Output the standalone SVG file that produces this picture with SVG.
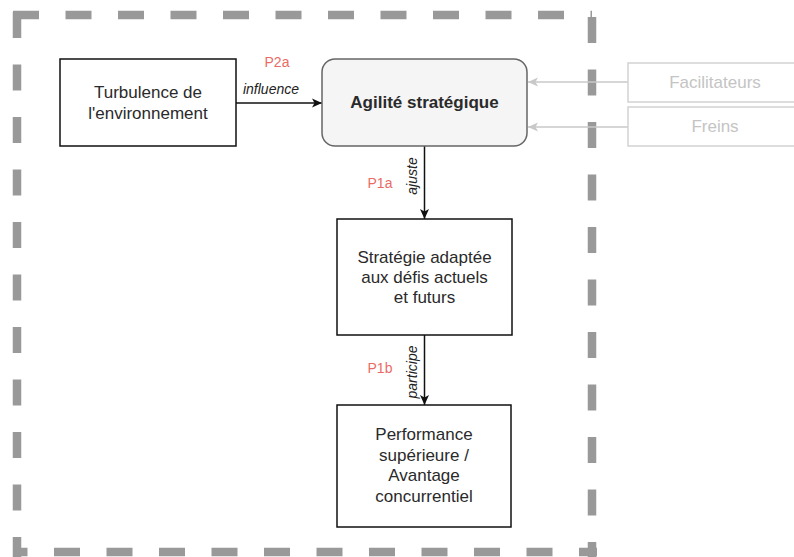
<svg xmlns="http://www.w3.org/2000/svg" width="794" height="557" viewBox="0 0 794 557">
  <style>
    .frame { fill: none; stroke: #999999; stroke-width: 8.5; stroke-dasharray: 26 26.5; }
    .box { fill: #ffffff; stroke: #111111; stroke-width: 1.5; }
    .soft { fill: #ffffff; stroke: #d2d2d2; stroke-width: 1.5; }
    .node { font-family: "Liberation Sans", Arial, sans-serif; font-size: 17px; fill: #2a2a2a; text-anchor: middle; }
    .bold { font-weight: bold; }
    .pale { fill: #c4c4c4; }
    .edge { stroke: #111111; stroke-width: 1.5; fill: none; }
    .edge-soft { stroke: #c8c8c8; stroke-width: 1.5; fill: none; }
    .lbl { font-family: "Liberation Sans", Arial, sans-serif; font-size: 14px; font-style: italic; fill: #222222; text-anchor: middle; }
    .prop { font-family: "Liberation Sans", Arial, sans-serif; font-size: 14px; fill: #ea6b66; text-anchor: middle; }
  </style>
  <defs>
    <marker id="arrow" markerUnits="userSpaceOnUse" markerWidth="12" markerHeight="12" viewBox="0 0 12 12" refX="11" refY="6" orient="auto">
      <path d="M1,1.5 L11,6 L1,10.5 L3.5,6 Z" fill="#111111"/>
    </marker>
    <marker id="arrow-soft" markerUnits="userSpaceOnUse" markerWidth="12" markerHeight="12" viewBox="0 0 12 12" refX="11" refY="6" orient="auto">
      <path d="M1,1.5 L11,6 L1,10.5 L3.5,6 Z" fill="#c8c8c8"/>
    </marker>
  </defs>

  <!-- dashed boundary, one line per side so each corner lines up -->
  <g id="boundary">
    <path class="frame" d="M13,15 H592"/>
    <path class="frame" d="M17,12 V557"/>
    <path class="frame" d="M592,17 V557"/>
    <path class="frame" d="M13,552 H597" stroke-dashoffset="11.5"/>
  </g>

  <g id="connectors">
    <path class="edge" d="M236,103 H322" marker-end="url(#arrow)"/>
    <path class="edge" d="M424.5,146 V219" marker-end="url(#arrow)"/>
    <path class="edge" d="M424.5,335 V405" marker-end="url(#arrow)"/>
    <path class="edge-soft" d="M628,82 H528" marker-end="url(#arrow-soft)"/>
    <path class="edge-soft" d="M628,127 H528" marker-end="url(#arrow-soft)"/>

    <text class="prop" x="277" y="67">P2a</text>
    <text class="lbl" x="271" y="94">influence</text>
    <text class="prop" x="380" y="188">P1a</text>
    <text class="lbl" transform="translate(417,176) rotate(-90)">ajuste</text>
    <text class="prop" x="380" y="373">P1b</text>
    <text class="lbl" transform="translate(417,372) rotate(-90)">participe</text>
  </g>

  <g id="turbulence">
    <rect class="box" x="60" y="59" width="176" height="87"/>
    <text class="node" x="148" y="98">Turbulence de</text>
    <text class="node" x="148" y="119">l'environnement</text>
  </g>

  <g id="agilite">
    <rect x="322" y="59" width="205" height="87" rx="13" fill="#f5f5f5" stroke="#666666" stroke-width="1.5"/>
    <text class="node bold" x="424.5" y="108">Agilité stratégique</text>
  </g>

  <g id="facilitateurs">
    <rect class="soft" x="628" y="63" width="176" height="39"/>
    <text class="node pale" x="715" y="88">Facilitateurs</text>
  </g>

  <g id="freins">
    <rect class="soft" x="628" y="107" width="176" height="39"/>
    <text class="node pale" x="715" y="132">Freins</text>
  </g>

  <g id="strategie">
    <rect class="box" x="337" y="219" width="175" height="116"/>
    <text class="node" x="424.5" y="263">Stratégie adaptée</text>
    <text class="node" x="424.5" y="283">aux défis actuels</text>
    <text class="node" x="424.5" y="303">et futurs</text>
  </g>

  <g id="performance">
    <rect class="box" x="337" y="405" width="174" height="122"/>
    <text class="node" x="424" y="440">Performance</text>
    <text class="node" x="424" y="460.5">supérieure /</text>
    <text class="node" x="424" y="481">Avantage</text>
    <text class="node" x="424" y="501.5">concurrentiel</text>
  </g>
</svg>
